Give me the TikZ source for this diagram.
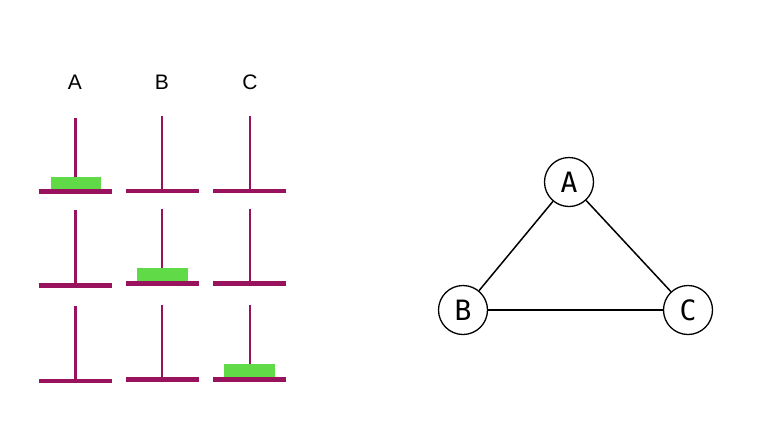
\documentclass[tikz,border=0pt]{standalone}
\usepackage{fontspec}
\setmainfont{Liberation Sans}
\newfontfamily\graphfont{DejaVu Sans Mono}
\definecolor{rodcol}{RGB}{152,18,94}
\definecolor{diskcol}{RGB}{96,218,70}
\begin{document}
\begin{tikzpicture}[x=1pt,y=-1pt,
  peglabel/.style={font=\fontsize{21}{21}\selectfont, inner sep=0pt},
  basebar/.style={draw=none, fill=rodcol},
  pole/.style={draw=rodcol, line width=2pt},
  polethick/.style={draw=rodcol, line width=2.6pt},
  disk/.style={draw=none, fill=diskcol},
  vertex/.style={circle, draw=black, line width=1.3pt, minimum size=49pt, inner sep=0pt, font=\graphfont\fontsize{28}{28}\selectfont},
  edge/.style={draw=black, line width=1.5pt}]
\useasboundingbox (0,0) rectangle (768,424);
% labels
\node[peglabel] (la) at (75,82) {A};
\node[peglabel] (lb) at (162,82) {B};
\node[peglabel] (lc) at (250,82) {C};
% row 1
\draw[polethick] (75.7,118) -- (75.7,190);
\draw[pole] (162.3,116) -- (162.3,189);
\draw[pole] (249.5,116) -- (249.5,189);
\fill[basebar] (39,189.3) rectangle (111.7,193.8);
\fill[basebar] (126,188.5) rectangle (198.7,193);
\fill[basebar] (213.3,188.5) rectangle (286,193);
\fill[disk] (50.7,177) rectangle (100.7,189.3);
% row 2
\draw[polethick] (75.7,210) -- (75.7,284);
\draw[pole] (162.3,208.5) -- (162.3,282);
\draw[pole] (249.5,208.5) -- (249.5,282);
\fill[basebar] (39,283.1) rectangle (111.7,287.6);
\fill[basebar] (126,281.2) rectangle (198.7,285.7);
\fill[basebar] (213.3,281.2) rectangle (286,285.7);
\fill[disk] (136.7,267.7) rectangle (188,281.2);
% row 3
\draw[polethick] (75.7,306) -- (75.7,379);
\draw[pole] (162.3,305) -- (162.3,378);
\draw[pole] (249.5,305) -- (249.5,378);
\fill[basebar] (39,378.5) rectangle (111.7,383);
\fill[basebar] (126,377.4) rectangle (198.7,381.9);
\fill[basebar] (213.3,377.4) rectangle (286,381.9);
\fill[disk] (224,363.7) rectangle (275,377.4);
% graph
\node[vertex] (A) at (569,182) {A};
\node[vertex] (B) at (463,310) {B};
\node[vertex] (C) at (688,310) {C};
\draw[edge] (A) -- (B);
\draw[edge] (A) -- (C);
\draw[edge] (B) -- (C);
\end{tikzpicture}
\end{document}
